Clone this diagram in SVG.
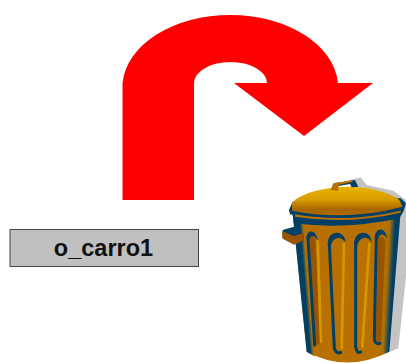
<svg xmlns="http://www.w3.org/2000/svg" width="406" height="363" viewBox="0 0 406 363">
<style>
.navy{fill:#003f66}
.dk{fill:#9a5400}
.ln{fill:none;stroke:#003f66;stroke-width:9;stroke-linecap:round;stroke-linejoin:round}
.lt{fill:none;stroke:#d69600;stroke-width:8;stroke-linecap:round}
</style>
<defs>
<linearGradient id="body" gradientUnits="userSpaceOnUse" x1="335" y1="300" x2="372" y2="302">
<stop offset="0" stop-color="#b87000"/><stop offset=".45" stop-color="#a87008"/><stop offset=".9" stop-color="#003f66"/><stop offset="1" stop-color="#003f66"/>
</linearGradient>
<linearGradient id="left" gradientUnits="userSpaceOnUse" x1="88" y1="300" x2="125" y2="297">
<stop offset="0" stop-color="#003f66"/><stop offset=".35" stop-color="#003f66"/><stop offset=".6" stop-color="#a87008" stop-opacity=".9"/><stop offset="1" stop-color="#b87000" stop-opacity="0"/>
</linearGradient>
<linearGradient id="lid" x1="0" x2="0" y1="0" y2="1">
<stop offset="0" stop-color="#e8b400"/><stop offset=".45" stop-color="#d89c00"/><stop offset=".8" stop-color="#a86400"/><stop offset="1" stop-color="#b06a00"/>
</linearGradient>
</defs>
<g id="arrow">
<path fill="#f00" d="M122.500 200V83A108 73 0 0 1 338 83H373L304 136L234 83H267A36.500 21 0 0 0 194 83V200Z"/>
</g>
<g id="o_carro1">
<rect x="10" y="229.500" width="188.500" height="37" fill="#c0c0c0" stroke="#444" stroke-width="1"/>
<text x="103.500" y="256" text-anchor="middle" font-family="'Liberation Sans',Arial,sans-serif" font-size="23.500" font-weight="700" fill="#111">o_carro1</text>
</g>
<g id="trash" transform="translate(270 170) scale(.3333)">
<path fill="#c4c4c4" d="M240 30L272 22L290 45L370 62L408 90V320L385 535L350 550L375 150Z"/>
<path fill="url(#body)" d="M68 130L110 545Q230 610 358 545L392 125Z"/>
<path fill="url(#left)" d="M68 130L110 545L135 560L150 130Z"/>
<path class="navy" d="M68 135L400 125L388 145Q230 180 72 160Z"/>
<path class="navy" d="M38 180L72 170L78 190L100 190L100 215L72 222L38 205Z"/>
<path class="dk" d="M36 184L72 198L100 188L100 212L72 224L38 206Z"/>
<path class="dk" d="M118 205C122 190 135 195 137 215L150 515C145 530 135 525 132 510Z"/>
<path class="ln" d="M134 525L114 205"/>
<path class="navy" d="M109 205C110 175 140 178 143 212C136 195 122 192 118 210Z"/>
<path class="lt" d="M143 215L153 515"/>
<path class="ln" d="M212 548Q198 552 193 535L178 222"/>
<path class="navy" d="M173 222C174 178 224 178 227 218C216 198 190 198 183 226Z"/>
<path class="lt" d="M222 222L215 535"/>
<path class="ln" d="M272 546Q260 552 257 530L257 220"/>
<path class="navy" d="M252 222C254 178 302 178 305 216C294 198 270 198 262 226Z"/>
<path class="lt" d="M298 222L277 530"/>
<path class="dk" d="M324 215C326 195 345 195 346 220L333 510C328 522 320 518 318 505Z"/>
<path class="ln" d="M330 520Q315 525 313 505L319 205"/>
<path class="navy" d="M314 205C316 168 348 172 351 206C342 190 328 188 324 210Z"/>
<path class="navy" d="M57 120L68 95L392 85L408 100L400 125Q230 170 60 133Z"/>
<path fill="#b87000" d="M75 133Q230 160 392 122L392 128Q230 165 75 140Z"/>
<path fill="url(#lid)" d="M66 100C90 65 180 50 240 50C300 50 365 70 388 90L398 110Q230 155 66 122Z"/>
<path class="navy" d="M195 40L255 30L265 50L245 52L240 42L205 48Z"/>
<path fill="#b87000" d="M182 60L190 40L208 36L204 62Z"/>
<path fill="#b87000" d="M205 38L245 30L248 36L208 44Z"/>
</g>
</svg>
